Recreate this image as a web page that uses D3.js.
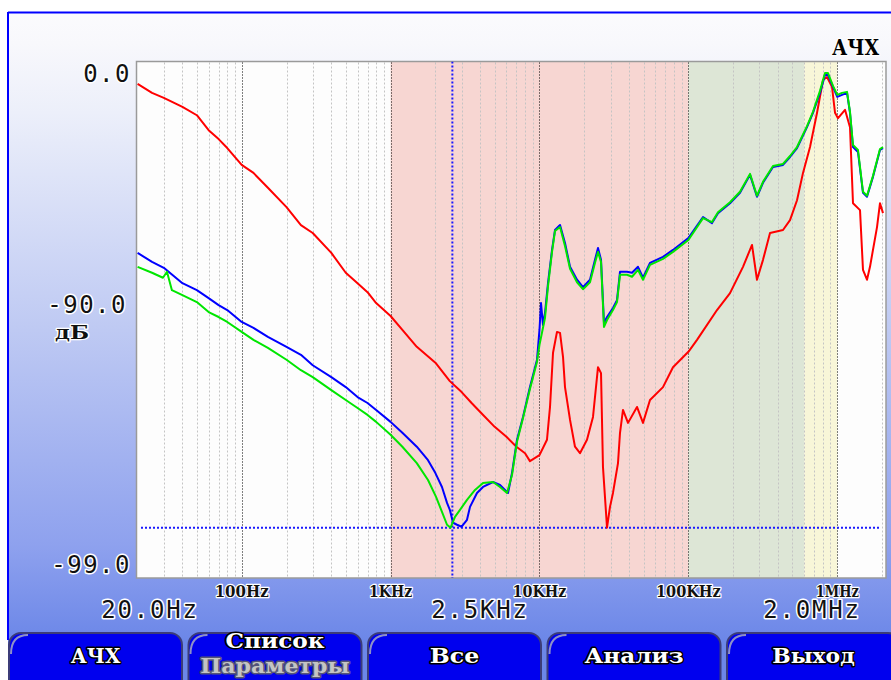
<!DOCTYPE html>
<html><head><meta charset="utf-8">
<script src="https://cdn.jsdelivr.net/npm/d3@7"></script>
<style>
html,body{margin:0;padding:0;background:#fff;overflow:hidden}
svg{display:block}
</style></head><body>
<svg id="c" width="891" height="680"></svg>
<script>
// ---------------- data ----------------
const freqTicks = [100, 1000, 10000, 100000, 1000000];
const freqTickLabels = ["100Hz", "1KHz", "10KHz", "100KHz", "1MHz"];
const levelLabels = ["0.0", "-90.0", "-99.0"];
const unitLabel = "дБ";
const rangeLabels = ["20.0Hz", "2.5KHz", "2.0MHz"];
const titleText = "АЧХ";
const buttonLabels = ["АЧХ", "Список", "Все", "Анализ", "Выход"];
const buttonSubLabels = ["", "Параметры", "", "", ""];
const freqDomain = [20, 2000000];
const levelDomain = [0, -99];
const bandStarts = [1000, 100000, 600000];
const bandEnds = [100000, 600000, 1000000];
const cursorFreq = 2600;
const cursorLevel = -91.5;

const redFreq = [20,25,30,40,50,60,70,80,100,120,150,200,250,300,400,500,600,700,800,1000,
  1200,1500,2000,2500,3000,3500,4000,5000,6000,7000,8000,8630,10000,11230,11770,12330,13110,13740,14390,14840,
  16040,17320,18710,20850,22880,24720,25900,26700,28420,29760,31160,33680,34740,36380,39320,45180,49580,55240,67540,78840,
  100000,114300,155700,190400,232700,267500,288900,317100,353400,432000,481500,536600,588700,656100,731200,802300,853200,921800,965600,1011600,
  1127300,1217300,1275200,1421300,1488200,1583400,1658400,1848800,1936000,2028000];
const redLevel = [-2.2,-4.0,-5.0,-6.8,-8.5,-11.5,-13.3,-15.1,-18.5,-20.1,-23.1,-27.0,-30.6,-32.2,-36.2,-40.2,-42.3,-44.1,-46.3,-48.9,
  -51.7,-55.1,-58.3,-62.0,-64.2,-66.4,-68.2,-71.2,-73.2,-75.2,-76.5,-78.1,-76.9,-73.8,-67.2,-56.3,-52.1,-52.3,-57.1,-63.2,
  -69.8,-75.2,-76.5,-73.8,-69.2,-59.2,-60.4,-79.3,-91.5,-87.3,-84.5,-78.5,-72.4,-67.8,-70.4,-67.2,-70.4,-65.8,-63.2,-59.2,
  -56.1,-53.7,-47.7,-44.3,-39.0,-34.6,-41.6,-37.6,-32.2,-31.6,-29.6,-25.6,-20.1,-14.9,-8.0,-1.4,-0.8,-2.8,-8.0,-9.1,
  -7.4,-10.9,-26.2,-27.6,-39.6,-41.6,-39.0,-31.0,-26.2,-28.2];

const blueFreq = [20,25,30,40,50,60,70,80,100,120,150,200,250,300,400,500,600,700,800,1000,
  1200,1500,1784,2000,2214,2394,2500,2626,2794,3000,3260,3416,3806,4176,4874,5432,6148,6538,7064,7752,
  8630,9626,10000,10240,10560,10890,11410,12140,12710,13740,14840,16040,17870,19600,21840,23600,24720,25900,27120,28420,
  31160,33160,34740,38700,41820,45880,49580,55240,67540,78840,100000,125400,144100,158100,190400,222200,259400,288900,317100,370100,
  432000,481500,536600,626200,687000,765600,827200,866400,935800,1000000,1075800,1162600,1217300,1275200,1377800,1488200,1583400,1737400,1936000,2028000];
const blueLevel = [-36.2,-38.0,-39.2,-42.3,-43.7,-45.3,-46.7,-47.7,-50.1,-51.3,-53.1,-55.1,-56.7,-58.8,-61.2,-63.2,-65.2,-66.4,-67.8,-70.2,
  -72.4,-75.2,-77.9,-80.5,-83.3,-86.5,-87.9,-90.5,-90.9,-91.3,-89.9,-87.3,-84.5,-83.3,-82.3,-82.9,-84.5,-80.5,-73.8,-69.2,
  -63.2,-57.7,-51.7,-46.3,-50.7,-48.3,-42.3,-35.6,-31.6,-30.6,-34.2,-39.0,-41.6,-43.1,-41.6,-37.6,-35.2,-37.6,-50.3,-49.1,
  -47.3,-45.7,-40.0,-40.0,-40.2,-39.0,-41.2,-38.2,-37.0,-35.6,-33.2,-29.0,-30.2,-28.2,-26.2,-24.1,-20.5,-24.9,-22.1,-18.9,
  -18.5,-16.9,-15.1,-10.9,-8.0,-4.0,-0.4,-0.4,-2.8,-4.8,-4.4,-4.0,-8.0,-14.9,-15.9,-24.1,-24.9,-20.9,-15.5,-15.1];

const greenFreq = [20,25,29.6,31.5,34,40,50,60,70,80,100,120,150,200,250,300,400,500,600,700,
  800,1000,1200,1500,1784,2020,2214,2394,2528,2708,2926,3260,3690,4176,4874,5432,6054,6538,7064,7752,
  8630,9626,10000,10890,11410,12140,12710,13740,14840,16040,17870,19600,21840,23600,24720,25900,27120,28420,31160,33160,
  34740,38700,41820,45880,49580,55240,67540,78840,100000,125400,144100,158100,190400,222200,259400,288900,317100,370100,432000,481500,
  536600,626200,687000,765600,827200,866400,935800,1000000,1075800,1162600,1217300,1275200,1377800,1488200,1583400,1737400,1936000,2028000];
const greenLevel = [-39.0,-40.2,-41.2,-40.0,-43.7,-44.7,-46.1,-48.1,-49.1,-50.1,-52.1,-53.7,-55.3,-57.7,-59.8,-61.2,-63.8,-65.8,-67.4,-68.8,
  -70.2,-72.8,-75.2,-78.5,-81.9,-85.3,-88.3,-90.9,-91.5,-89.3,-87.9,-85.9,-83.9,-82.5,-82.3,-83.3,-84.5,-80.9,-74.2,-69.4,
  -63.6,-58.1,-54.7,-49.3,-42.9,-36.0,-31.8,-31.0,-34.8,-39.4,-42.1,-43.5,-42.1,-38.2,-36.0,-38.0,-51.1,-49.7,-47.7,-46.1,
  -40.6,-40.6,-41.0,-39.6,-41.6,-38.6,-37.4,-36.0,-33.6,-29.2,-30.0,-28.0,-26.0,-23.9,-20.3,-24.7,-21.9,-18.7,-18.3,-16.7,
  -14.9,-10.7,-7.8,-3.6,0.0,0.0,-2.6,-4.4,-4.0,-3.8,-7.8,-14.5,-15.5,-23.9,-24.7,-20.7,-15.3,-14.9];

// ---------------- layout / style ----------------
const W = 891, H = 680;
const P = {l: 136.5, t: 61.5, r: 886, b: 578};
const bandFills = ["#f7d6d2", "#dde6d6", "#f8f6d8"];
const seriesStyle = [
  {f: redFreq, v: redLevel, c: "#ff0000"},
  {f: blueFreq, v: blueLevel, c: "#0000ff"},
  {f: greenFreq, v: greenLevel, c: "#00e600"}
];

const svg = d3.select("#c");
const defs = svg.append("defs");
const grad = defs.append("linearGradient").attr("id", "bg")
  .attr("gradientUnits", "userSpaceOnUse").attr("x1", 0).attr("y1", 12).attr("x2", 0).attr("y2", 640);
[[0, "#fbfbfd"], [0.05, "#f8f8fc"], [0.16, "#eceffa"], [0.5, "#bfcaf3"], [0.85, "#8ea1ee"], [1, "#6c87e8"]]
  .forEach(s => grad.append("stop").attr("offset", s[0]).attr("stop-color", s[1]));
defs.append("clipPath").attr("id", "clip").append("rect")
  .attr("x", P.l).attr("y", P.t).attr("width", P.r - P.l).attr("height", P.b - P.t);

svg.append("rect").attr("width", W).attr("height", H).attr("fill", "#ffffff");
svg.append("rect").attr("x", 8).attr("y", 12).attr("width", W - 8).attr("height", H - 12).attr("fill", "url(#bg)");
svg.append("line").attr("x1", 8).attr("x2", W).attr("y1", 12.5).attr("y2", 12.5).attr("stroke", "#0000ff").attr("stroke-width", 2);
svg.append("line").attr("x1", 8).attr("x2", 8).attr("y1", 12).attr("y2", 640).attr("stroke", "#0000ff").attr("stroke-width", 2);

const x = d3.scaleLog().domain(freqDomain).range([137.6, 882.1]);
const y = d3.scaleLinear().domain(levelDomain).range([73, 565]);

// plot background
svg.append("rect").attr("x", P.l).attr("y", P.t).attr("width", P.r - P.l).attr("height", P.b - P.t)
  .attr("fill", "#fdfdfd");
// bands
svg.append("g").selectAll("rect").data(d3.zip(bandStarts, bandEnds)).join("rect")
  .attr("x", d => x(d[0])).attr("width", d => x(d[1]) - x(d[0]))
  .attr("y", P.t).attr("height", P.b - P.t)
  .attr("fill", (d, i) => bandFills[i]);

// grid
const gridFreqs = [];
for (let dec = 10; dec <= 1e6; dec *= 10)
  for (let k = 1; k <= 9; k++) {
    const f = k * dec;
    if (f > freqDomain[0] && f <= freqDomain[1]) gridFreqs.push({f, major: k === 1});
  }
svg.append("g").selectAll("line").data(gridFreqs).join("line")
  .attr("x1", d => Math.round(x(d.f)) + 0.5).attr("x2", d => Math.round(x(d.f)) + 0.5)
  .attr("y1", P.t + 1).attr("y2", P.b)
  .attr("stroke", d => d.major ? "#000" : "#c4c4c4")
  .attr("stroke-dasharray", d => d.major ? "1,2" : "2,2");

// frame
svg.append("rect").attr("x", P.l).attr("y", P.t).attr("width", P.r - P.l).attr("height", P.b - P.t)
  .attr("fill", "none").attr("stroke", "#9a9a9a").attr("stroke-width", 1.5);

// cursors
const cg = svg.append("g").attr("clip-path", "url(#clip)");
cg.append("line").attr("x1", 141).attr("x2", 880).attr("y1", y(cursorLevel)).attr("y2", y(cursorLevel))
  .attr("stroke", "#1a1aff").attr("stroke-width", 2).attr("stroke-dasharray", "2,2");
cg.append("line").attr("x1", x(cursorFreq)).attr("x2", x(cursorFreq)).attr("y1", P.t).attr("y2", P.b)
  .attr("stroke", "#1a1aff").attr("stroke-width", 2).attr("stroke-dasharray", "2,2");

// traces
const line = d3.line().x(d => x(d[0])).y(d => y(d[1]));
const lg = svg.append("g").attr("clip-path", "url(#clip)");
seriesStyle.forEach(s => {
  lg.append("path").attr("d", line(d3.zip(s.f, s.v)))
    .attr("fill", "none").attr("stroke", s.c).attr("stroke-width", 2).attr("stroke-linejoin", "round");
});

// text helpers
function halo(sel, fill, stroke, sw) {
  return sel.attr("fill", fill).attr("stroke", stroke).attr("stroke-width", sw)
    .attr("stroke-linejoin", "round").attr("paint-order", "stroke");
}
const slab = "'DejaVu Serif', serif";
const sansMono = "'DejaVu Sans Mono', monospace";
function slabText(g, t, xx, yy, size, charW, anchor) {
  return g.append("text").attr("x", xx).attr("y", yy).attr("text-anchor", anchor || "middle")
    .attr("font-family", slab).attr("font-weight", "bold").attr("font-size", size)
    .attr("textLength", t.length * charW).attr("lengthAdjust", "spacingAndGlyphs").text(t);
}

// title
halo(slabText(svg, titleText, 879, 55, 23, 15.7, "end"), "#000", "#fff", 2.5);

// level labels
const levelPos = [[131, 82], [127, 313], [131, 573]];
levelLabels.forEach((t, i) => {
  halo(svg.append("text").attr("x", levelPos[i][0]).attr("y", levelPos[i][1]).attr("text-anchor", "end")
    .attr("font-family", sansMono).attr("font-size", 24).attr("letter-spacing", 1.5).text(t), "#111", "#fff", 3);
});
halo(slabText(svg, unitLabel, 72, 339, 19, 17), "#111", "#fff", 2.5);

// frequency tick labels
freqTicks.forEach((f, i) => {
  halo(slabText(svg, freqTickLabels[i], x(f), 597, 16, 10.8), "#111", "#fff", 2.5);
});
const rangePos = [150, 480, 812];
rangeLabels.forEach((t, i) => {
  halo(svg.append("text").attr("x", rangePos[i]).attr("y", 618).attr("text-anchor", "middle")
    .attr("font-family", sansMono).attr("font-size", 24).attr("letter-spacing", 1.8).text(t), "#111", "#fff", 3);
});

// buttons
const bw = 175, step = 179.5, by = 632;
buttonLabels.forEach((t, i) => {
  const bx = 8 + i * step;
  const g = svg.append("g");
  g.append("rect").attr("x", bx + 1).attr("y", by + 1).attr("width", bw - 2).attr("height", 70)
    .attr("rx", 12).attr("fill", "#0000ee").attr("stroke", "#3c3c78").attr("stroke-width", 2);
  g.append("path").attr("d", `M${bx + 3},${by + 22} Q${bx + 3},${by + 3} ${bx + 20},${by + 3}`)
    .attr("fill", "none").attr("stroke", "#8e90c8").attr("stroke-width", 2);
  const cx = bx + bw / 2;
  if (buttonSubLabels[i]) {
    halo(slabText(g, t, cx, 648, 20, 16.5), "#fff", "#000", 3);
    halo(slabText(g, buttonSubLabels[i], cx, 673, 20, 16.6), "#c4c4c4", "#555577", 3);
  } else {
    halo(slabText(g, t, cx, 663, 21, 16.5), "#fff", "#000", 3);
  }
});
</script>
</body></html>
